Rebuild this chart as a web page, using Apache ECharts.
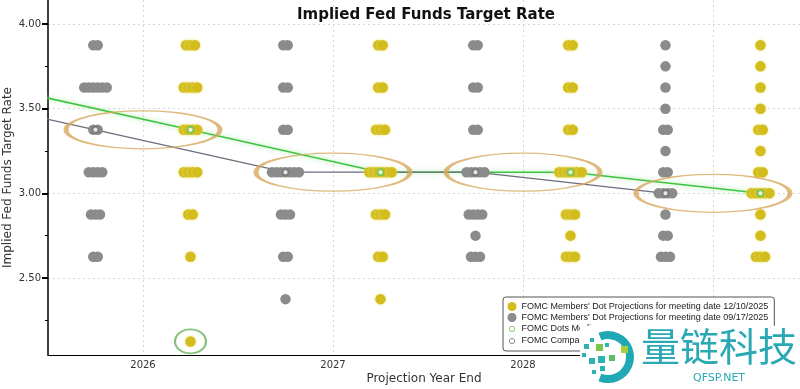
<!DOCTYPE html>
<html><head><meta charset="utf-8">
<script src="https://cdn.jsdelivr.net/npm/echarts@6/dist/echarts.min.js"></script>
<style>html,body{margin:0;padding:0;background:#fff}#c{width:800px;height:389px}</style>
</head><body><div id="c"></div>
<script>
// ---- data ----
const levels = [3.875, 3.75, 3.625, 3.5, 3.375, 3.25, 3.125, 3.0, 2.875, 2.75, 2.625, 2.375, 2.125];
const columns = [2026, 2027, 2028, 2029]; // 2029 slot = longer run
const xTickLabels = [2026, 2027, 2028];
// number of participants at each level (Sept 17 2025 meeting)
const sep2026 = [2,0,6,0,2,0,4,0,3,0,2,0,0];
const sep2027 = [2,0,2,0,2,0,7,0,3,0,2,1,0];
const sep2028 = [2,0,2,0,2,0,5,0,4,1,3,0,0];
const sepLR   = [1,1,1,1,2,1,2,4,1,2,3,0,0];
// (Dec 10 2025 meeting)
const dec2026 = [3,0,4,0,4,0,4,0,2,0,1,0,1];
const dec2027 = [2,0,2,0,3,0,6,0,3,0,2,1,0];
const dec2028 = [2,0,2,0,2,0,6,0,3,1,3,0,0];
const decLR   = [1,1,1,1,2,1,2,5,1,1,3,0,0];
const medianYears = [2025, 2026, 2027, 2028, 2029];
const decMedian = [3.625, 3.375, 3.125, 3.125, 3.0];
const sepMedian = [3.625, 3.375, 3.125, 3.125, 3.0];
const yTicks = [2.5, 3.0, 3.5, 4.0];
const yMinorTicks = [2.25, 2.75, 3.25, 3.75];
const names = [
  "FOMC Members' Dot Projections for meeting date 12/10/2025",
  "FOMC Members' Dot Projections for meeting date 09/17/2025",
  "FOMC Dots Median",
  "FOMC Comparison Dots Median"
];

// ---- layout helpers ----
const DEC_OFF = 0.25, SEP_OFF = -0.25, DOT_STEP = 4.5;
const Y_MIN = 2.045, Y_MAX = 4.142, X_MIN = 2025.5, X_MAX = 2029.458;

function buildDots(countsList, off) {
  const out = [];
  countsList.forEach((counts, ci) => {
    counts.forEach((n, li) => {
      for (let i = 0; i < n; i++) {
        out.push({ value: [columns[ci] + off, levels[li]], symbolOffset: [(i - (n - 1) / 2) * DOT_STEP, 0] });
      }
    });
  });
  return out;
}
const decDots = buildDots([dec2026, dec2027, dec2028, decLR], DEC_OFF);
const sepDots = buildDots([sep2026, sep2027, sep2028, sepLR], SEP_OFF);
const decLine = medianYears.map((y, i) => [y + DEC_OFF, decMedian[i]]);
const sepLine = medianYears.map((y, i) => [y + SEP_OFF, sepMedian[i]]);
const ellipseCenters = columns.map((c, i) => [c, decMedian[i + 1]]);
const lowIdx = dec2026.reduce((a, n, i) => n > 0 ? i : a, 0);
const lowDot = [[columns[0] + DEC_OFF, levels[lowIdx]]];

const FONT = 'DejaVu Sans';
const smallIcon = 'path://M0,0M12,12M9.5,6A3.5,3.5,0,1,1,2.5,6A3.5,3.5,0,1,1,9.5,6Z';

const chart = echarts.init(document.getElementById('c'), null, { renderer: 'canvas' });
chart.setOption({
  animation: false,
  backgroundColor: '#fff',
  title: {
    text: 'Implied Fed Funds Target Rate', left: 292, top: 3,
    textStyle: { fontFamily: FONT, fontSize: 15, fontWeight: 'bold', color: '#111' }
  },
  grid: { left: 48, right: 0, top: 0, bottom: 34, containLabel: false, outerBoundsMode: 'none' },
  xAxis: {
    type: 'value', min: X_MIN, max: X_MAX,
    axisLine: { show: true, onZero: false, lineStyle: { color: '#000', width: 1 } },
    axisTick: { show: false, customValues: columns },
    axisLabel: { customValues: xTickLabels, formatter: v => String(Math.round(v)), fontFamily: FONT, fontSize: 10, color: '#333', margin: 5 },
    splitLine: { show: true, lineStyle: { color: '#d6d6d6', type: [2, 3], width: 1 } },
    name: 'Projection Year End', nameLocation: 'middle', nameGap: 18, nameMoveOverlap: false,
    nameTextStyle: { fontFamily: FONT, fontSize: 12, color: '#333' }
  },
  yAxis: [{
    type: 'value', min: Y_MIN, max: Y_MAX, position: 'left',
    axisLine: { show: true, lineStyle: { color: '#000', width: 1.5 } },
    axisTick: { show: true, customValues: yTicks, length: 6, lineStyle: { color: '#000', width: 2 } },
    axisLabel: { customValues: yTicks, formatter: v => v.toFixed(2), fontFamily: FONT, fontSize: 10, color: '#333', margin: 7 },
    splitLine: { show: true, lineStyle: { color: '#d6d6d6', type: [2, 3], width: 1 } },
    name: 'Implied Fed Funds Target Rate', nameLocation: 'middle', nameGap: 34, nameMoveOverlap: false,
    nameTextStyle: { fontFamily: FONT, fontSize: 12, color: '#333' }
  }, {
    type: 'value', min: Y_MIN, max: Y_MAX, position: 'left',
    axisLine: { show: false },
    axisTick: { show: true, customValues: yMinorTicks, length: 3, lineStyle: { color: '#000', width: 1 } },
    axisLabel: { show: false }, splitLine: { show: false }
  }],
  legend: {
    data: [
      { name: names[0], icon: 'circle' },
      { name: names[1], icon: 'circle' },
      { name: names[2], icon: smallIcon, itemStyle: { color: '#fff', borderColor: '#5fbf4f', borderWidth: 1 } },
      { name: names[3], icon: smallIcon, itemStyle: { color: '#fff', borderColor: '#777', borderWidth: 1 } }
    ],
    orient: 'vertical', left: 503, top: 297,
    padding: [5, 6, 5, 4], itemGap: 2, itemWidth: 9, itemHeight: 9,
    borderColor: '#555', borderWidth: 1, borderRadius: 3, backgroundColor: '#fff',
    textStyle: { fontFamily: 'Liberation Sans', fontSize: 9, color: '#222' },
    selectedMode: false, z: 20
  },
  series: [
    { name: names[2] + ' line', type: 'line', data: decLine, showSymbol: false, z: 1, silent: true,
      lineStyle: { color: '#3fc43f', width: 1.5, shadowColor: 'rgba(140,230,140,0.9)', shadowBlur: 5 } },
    { name: names[3] + ' line', type: 'line', data: sepLine, showSymbol: false, z: 1, silent: true,
      lineStyle: { color: '#6c6c7c', width: 1.2 } },
    { name: names[1], type: 'scatter', data: sepDots, symbol: 'circle', symbolSize: 10.5, z: 2, silent: true,
      itemStyle: { color: '#8b8b8b', opacity: 1 } },
    { name: names[0], type: 'scatter', data: decDots, symbol: 'circle', symbolSize: 10.5, z: 3, silent: true,
      itemStyle: { color: '#d3bd1c', opacity: 1, shadowColor: 'rgba(238,228,130,0.9)', shadowBlur: 3 } },
    { name: names[2], type: 'scatter', data: decLine, symbol: 'emptyCircle', symbolSize: 6, z: 4, silent: true,
      itemStyle: { color: '#62c24e', borderColor: '#62c24e', borderWidth: 1 } },
    { name: names[3], type: 'scatter', data: sepLine, symbol: 'emptyCircle', symbolSize: 6, z: 4, silent: true,
      itemStyle: { color: '#707070', borderColor: '#707070', borderWidth: 1 } },
    { name: 'median highlight', type: 'scatter', data: ellipseCenters, symbol: 'circle', symbolSize: [154, 38], z: 5, silent: true,
      itemStyle: { color: 'rgba(0,0,0,0)', borderColor: '#d7a75c', borderWidth: 2.5 } },
    { name: 'low dot highlight', type: 'scatter', data: lowDot, symbol: 'circle', symbolSize: [31, 24], z: 5, silent: true,
      itemStyle: { color: 'rgba(0,0,0,0)', borderColor: '#66b35c', borderWidth: 2 } }
  ],
  graphic: [
    { type: 'rect', shape: { x: 580, y: 326, width: 220, height: 63 }, style: { fill: '#fff' }, z: 100, silent: true },
    { type: 'arc', shape: { cx: 608, cy: 357, r: 22, startAngle: -Math.PI * 0.62, endAngle: Math.PI * 0.62 },
      style: { stroke: '#20a8b4', lineWidth: 8, fill: null }, z: 101, silent: true },
    { type: 'rect', shape: { x: 584, y: 344, width: 5, height: 5 }, style: { fill: '#2bb3b1' }, z: 101, silent: true },
    { type: 'rect', shape: { x: 590, y: 338, width: 4, height: 4 }, style: { fill: '#2bb3b1' }, z: 101, silent: true },
    { type: 'rect', shape: { x: 582, y: 353, width: 4, height: 4 }, style: { fill: '#2bb3b1' }, z: 101, silent: true },
    { type: 'rect', shape: { x: 596, y: 344, width: 7, height: 7 }, style: { fill: '#7cc44a' }, z: 101, silent: true },
    { type: 'rect', shape: { x: 605, y: 343, width: 4, height: 4 }, style: { fill: '#2bb3b1' }, z: 101, silent: true },
    { type: 'rect', shape: { x: 621, y: 346, width: 7, height: 7 }, style: { fill: '#a9cf3c' }, z: 101, silent: true },
    { type: 'rect', shape: { x: 589, y: 358, width: 6, height: 6 }, style: { fill: '#2bb3b1' }, z: 101, silent: true },
    { type: 'rect', shape: { x: 598, y: 356, width: 7, height: 7 }, style: { fill: '#2bb3b1' }, z: 101, silent: true },
    { type: 'rect', shape: { x: 609, y: 355, width: 6, height: 6 }, style: { fill: '#5cbf6a' }, z: 101, silent: true },
    { type: 'rect', shape: { x: 600, y: 366, width: 5, height: 5 }, style: { fill: '#2bb3b1' }, z: 101, silent: true },
    { type: 'rect', shape: { x: 592, y: 370, width: 4, height: 4 }, style: { fill: '#2bb3b1' }, z: 101, silent: true },
    { type: 'text', x: 641, y: 327, style: { text: '量链科技', font: '39px "Noto Sans CJK SC"', fill: '#2aa9b4' }, z: 101, silent: true },
    { type: 'text', x: 693, y: 373, style: { text: 'QFSP.NET', font: '11px "DejaVu Sans"', fill: '#2aa9b4' }, z: 101, silent: true }
  ]
});
</script>
</body></html>
